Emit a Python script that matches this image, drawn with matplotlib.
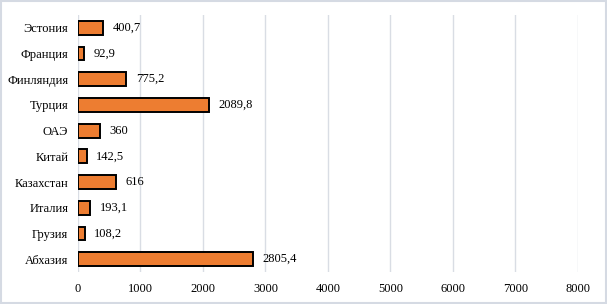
import matplotlib.pyplot as plt
from matplotlib.patches import Rectangle

COUNTRIES = ["Эстония", "Франция", "Финляндия", "Турция", "ОАЭ",
             "Китай", "Казахстан", "Италия", "Грузия", "Абхазия"]
VALUES = [400.7, 92.9, 775.2, 2089.8, 360, 142.5, 616, 193.1, 108.2, 2805.4]
VALUE_LABELS = ["400,7", "92,9", "775,2", "2089,8", "360",
                "142,5", "616", "193,1", "108,2", "2805,4"]
X_TICKS = [0, 1000, 2000, 3000, 4000, 5000, 6000, 7000, 8000]

BAR_COLOR = "#ED7D31"
GRID_COLOR = "#D9DDE4"
FONT_SIZE = 9

plt.rcParams["font.family"] = ["Liberation Serif", "DejaVu Serif"]

fig = plt.figure(figsize=(6.07, 3.04), dpi=100)
ax = fig.add_axes([0.1285, 0.105, 0.8235, 0.846])

positions = list(range(len(COUNTRIES)))
ax.barh(positions, VALUES, height=0.54, color=BAR_COLOR,
        edgecolor="black", linewidth=1.4, zorder=3)

for pos, val, label in zip(positions, VALUES, VALUE_LABELS):
    ax.text(val + 150, pos, label, va="center", ha="left", fontsize=FONT_SIZE)

ax.set_yticks(positions)
ax.set_yticklabels(COUNTRIES, fontsize=FONT_SIZE)
ax.set_xticks(X_TICKS)
ax.set_xticklabels([str(t) for t in X_TICKS], fontsize=FONT_SIZE)
ax.set_xlim(0, 8000)
ax.set_ylim(len(COUNTRIES) - 0.5, -0.5)

ax.grid(axis="x", color=GRID_COLOR, linewidth=1.0, zorder=0)
ax.set_axisbelow(True)
for spine in ax.spines.values():
    spine.set_visible(False)
ax.tick_params(axis="both", length=0)
ax.tick_params(axis="x", pad=8)
ax.tick_params(axis="y", pad=7)

fig.patches.append(Rectangle((0.002, 0.003), 0.996, 0.994, transform=fig.transFigure,
                             fill=False, edgecolor="#D5DAE3", linewidth=1.5))

fig.savefig("out.png", dpi=100)
